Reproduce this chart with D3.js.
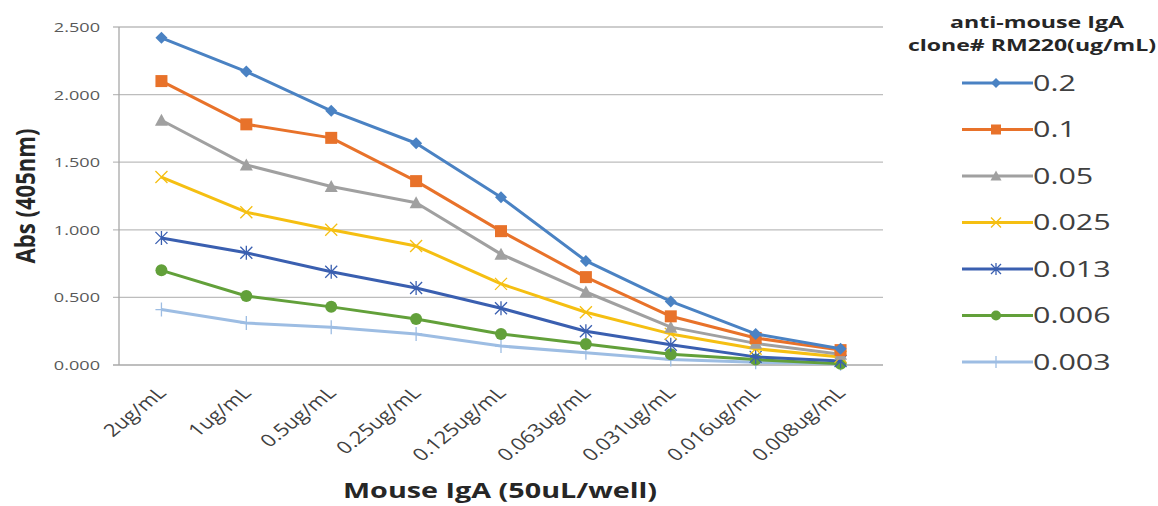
<!DOCTYPE html>
<html>
<head>
<meta charset="utf-8">
<script src="https://cdn.jsdelivr.net/npm/d3@7"></script>
<style>
  body { margin: 0; background: #fff; }
  svg { font-family: "Open Sans", sans-serif; }
</style>
</head>
<body>
<svg id="chart" width="1158" height="506"></svg>
<script>
// categories on the x axis
var categories = ["2ug/mL", "1ug/mL", "0.5ug/mL", "0.25ug/mL", "0.125ug/mL",
                  "0.063ug/mL", "0.031ug/mL", "0.016ug/mL", "0.008ug/mL"];

// antibody concentrations (legend)
var seriesNames = ["0.2", "0.1", "0.05", "0.025", "0.013", "0.006", "0.003"];

// absorbance values, one array per series
var s02   = [2.42, 2.17, 1.88, 1.64, 1.24, 0.77, 0.47, 0.23, 0.12];
var s01   = [2.10, 1.78, 1.68, 1.36, 0.99, 0.65, 0.36, 0.20, 0.11];
var s005  = [1.81, 1.48, 1.32, 1.20, 0.82, 0.54, 0.28, 0.16, 0.08];
var s0025 = [1.39, 1.13, 1.00, 0.88, 0.60, 0.39, 0.23, 0.12, 0.06];
var s0013 = [0.94, 0.83, 0.69, 0.57, 0.42, 0.25, 0.15, 0.06, 0.03];
var s0006 = [0.70, 0.51, 0.43, 0.34, 0.23, 0.155, 0.08, 0.04, 0.01];
var s0003 = [0.41, 0.31, 0.28, 0.23, 0.14, 0.09, 0.04, 0.02, 0.01];

var yTicks = [0, 0.5, 1.0, 1.5, 2.0, 2.5];

var allSeries = [s02, s01, s005, s0025, s0013, s0006, s0003];
var colors = ["#4a82c3", "#e8722a", "#a0a0a0", "#f5bf12", "#3a5fb0", "#62a03a", "#9dbde3"];
var markers = ["diamond", "square", "triangle", "x", "asterisk", "circle", "plus"];

const svg = d3.select("#chart");

// the picture is stretched sideways, so text gets a horizontal scale
var stretch = 1.45;

var plotLeft = 119, plotRight = 883, plotTop = 27, plotBottom = 365;

var x = d3.scalePoint().domain(categories).range([plotLeft, plotRight]).padding(0.5);
var y = d3.scaleLinear().domain([0, 2.5]).range([plotBottom, plotTop]);

// gridlines
svg.append("g")
  .selectAll("line")
  .data(yTicks)
  .enter()
  .append("line")
  .attr("x1", plotLeft - 6)
  .attr("x2", plotRight)
  .attr("y1", d => y(d))
  .attr("y2", d => y(d))
  .attr("stroke", d => d == 0 ? "#a8a8a8" : "#bdbdbd")
  .attr("stroke-width", 1.3);

// y axis line
svg.append("line")
  .attr("x1", plotLeft).attr("x2", plotLeft)
  .attr("y1", plotTop).attr("y2", plotBottom)
  .attr("stroke", "#a8a8a8")
  .attr("stroke-width", 1.3);

// y tick labels
svg.append("g")
  .selectAll("text")
  .data(yTicks)
  .enter()
  .append("text")
  .attr("transform", d => `translate(100,${y(d) + 5}) scale(${stretch},1)`)
  .attr("text-anchor", "end")
  .attr("font-size", "12.5px")
  .attr("fill", "#595959")
  .text(d => d3.format(".3f")(d));

// x tick labels, rotated
svg.append("g")
  .selectAll("text")
  .data(categories)
  .enter()
  .append("text")
  .attr("transform", d => `translate(${x(d) + 6},${plotBottom + 29}) scale(1.25,1) rotate(-45)`)
  .attr("text-anchor", "end")
  .attr("font-size", "17.5px")
  .attr("fill", "#404040")
  .text(d => d);

// axis titles
svg.append("text")
  .attr("transform", "translate(35,196) rotate(-90) scale(1,1.25)")
  .attr("text-anchor", "middle")
  .attr("font-size", "21px")
  .attr("font-weight", "bold")
  .attr("fill", "#262626")
  .attr("textLength", 135)
  .attr("lengthAdjust", "spacingAndGlyphs")
  .text("Abs (405nm)");

svg.append("text")
  .attr("transform", "translate(500,498)")
  .attr("text-anchor", "middle")
  .attr("font-size", "21px")
  .attr("font-weight", "bold")
  .attr("fill", "#262626")
  .attr("textLength", 314)
  .attr("lengthAdjust", "spacingAndGlyphs")
  .text("Mouse IgA (50uL/well)");

// draw a marker of given type at (cx, cy)
function drawMarker(g, type, cx, cy, color, r) {
  if (type == "diamond") {
    g.append("path").attr("d", `M${cx},${cy-r} L${cx+r},${cy} L${cx},${cy+r} L${cx-r},${cy} Z`)
      .attr("fill", color);
  } else if (type == "square") {
    g.append("rect").attr("x", cx - r).attr("y", cy - r).attr("width", 2*r).attr("height", 2*r)
      .attr("fill", color);
  } else if (type == "triangle") {
    g.append("path").attr("d", `M${cx},${cy-r-0.5} L${cx+r+0.5},${cy+r-0.5} L${cx-r-0.5},${cy+r-0.5} Z`)
      .attr("fill", color);
  } else if (type == "circle") {
    g.append("circle").attr("cx", cx).attr("cy", cy).attr("r", r).attr("fill", color);
  } else if (type == "x") {
    g.append("path").attr("d", `M${cx-r},${cy-r} L${cx+r},${cy+r} M${cx-r},${cy+r} L${cx+r},${cy-r}`)
      .attr("stroke", color).attr("stroke-width", 1.3).attr("fill", "none");
  } else if (type == "asterisk") {
    g.append("path").attr("d", `M${cx-r},${cy-r} L${cx+r},${cy+r} M${cx-r},${cy+r} L${cx+r},${cy-r} M${cx},${cy-r-1} L${cx},${cy+r+1}`)
      .attr("stroke", color).attr("stroke-width", 1.3).attr("fill", "none");
  } else if (type == "plus") {
    g.append("path").attr("d", `M${cx-r},${cy} L${cx+r},${cy} M${cx},${cy-r-1} L${cx},${cy+r+1}`)
      .attr("stroke", color).attr("stroke-width", 1.3).attr("fill", "none");
  }
}

var line = d3.line()
  .x((d, i) => x(categories[i]))
  .y(d => y(d));

// series lines + markers (last series first so 0.2 ends on top)
for (let s = allSeries.length - 1; s >= 0; s--) {
  const g = svg.append("g");
  g.append("path")
    .attr("d", line(allSeries[s]))
    .attr("stroke", colors[s])
    .attr("stroke-width", 3)
    .attr("fill", "none")
    .attr("stroke-linejoin", "round");
  allSeries[s].forEach((v, i) => drawMarker(g, markers[s], x(categories[i]), y(v), colors[s], 6));
}

// legend
svg.append("text")
  .attr("transform", `translate(1037,28) scale(${stretch},1)`)
  .attr("text-anchor", "middle")
  .attr("font-size", "16px").attr("font-weight", "bold").attr("fill", "#262626")
  .text("anti-mouse IgA");
svg.append("text")
  .attr("transform", "translate(1032,51)")
  .attr("text-anchor", "middle")
  .attr("font-size", "16px").attr("font-weight", "bold").attr("fill", "#262626")
  .attr("textLength", 248)
  .attr("lengthAdjust", "spacingAndGlyphs")
  .text("clone# RM220(ug/mL)");

seriesNames.forEach((name, i) => {
  const ly = 83 + i * 46.5;
  const g = svg.append("g");
  g.append("line")
    .attr("x1", 962).attr("x2", 1033)
    .attr("y1", ly).attr("y2", ly)
    .attr("stroke", colors[i]).attr("stroke-width", 3);
  drawMarker(g, markers[i], 996, ly, colors[i], 5);
  g.append("text")
    .attr("transform", `translate(1033,${ly + 7.5}) scale(${stretch},1)`)
    .attr("font-size", "21px")
    .attr("fill", "#404040")
    .text(name);
});
</script>
</body>
</html>
